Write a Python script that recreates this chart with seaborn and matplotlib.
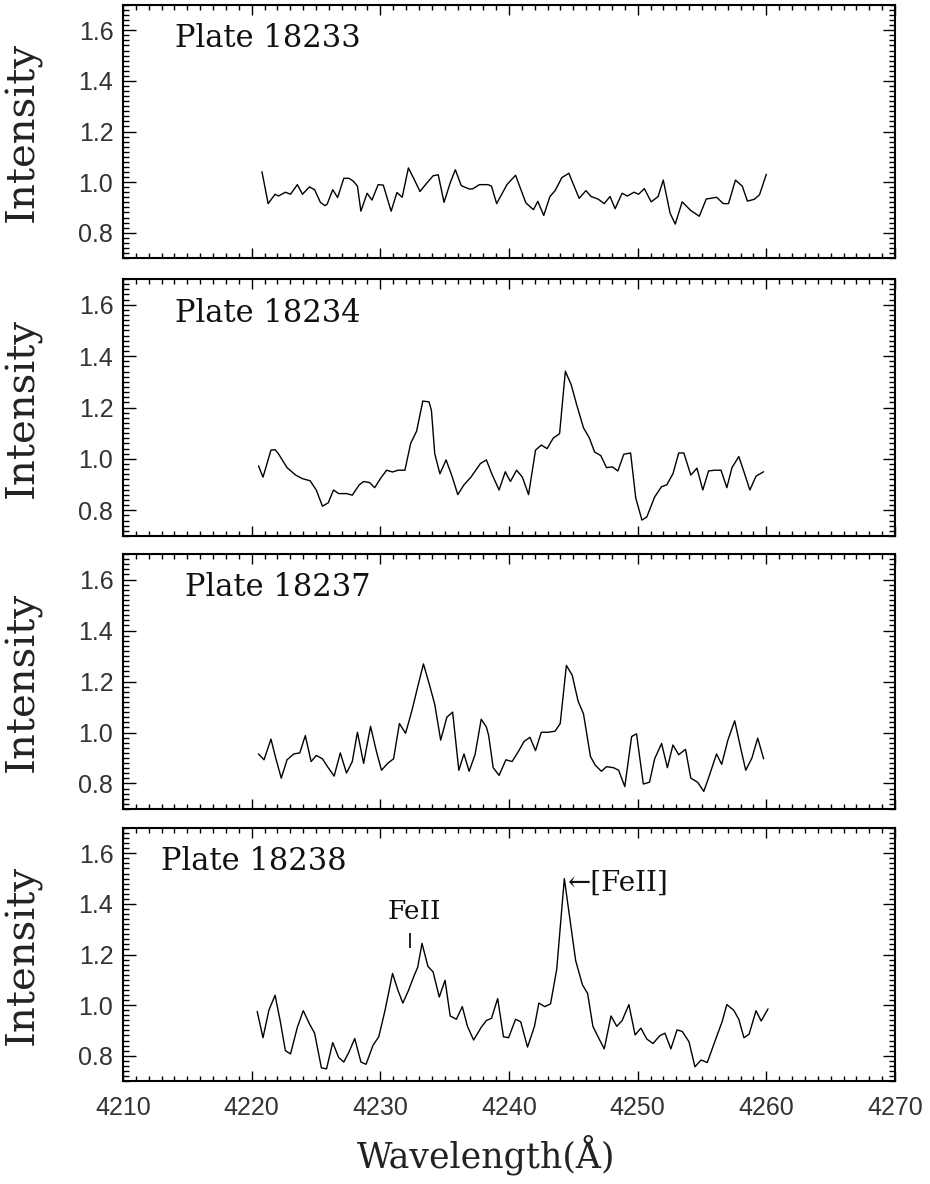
import matplotlib
matplotlib.use("Agg")
import matplotlib.pyplot as plt
import seaborn as sns
import pandas as pd
from matplotlib.ticker import MultipleLocator

plates = ["Plate 18233", "Plate 18234", "Plate 18237", "Plate 18238"]

wl_18233 = [4220.80, 4221.28, 4221.82, 4222.08, 4222.62, 4223.02, 4223.55, 4223.95, 4224.49, 4224.89,
            4225.34, 4225.69, 4225.87, 4226.30, 4226.68, 4227.16, 4227.56, 4227.90, 4228.22, 4228.49,
            4228.97, 4229.35, 4229.83, 4230.23, 4230.84, 4231.29, 4231.70, 4232.18, 4232.63, 4233.08,
            4233.56, 4234.10, 4234.50, 4234.95, 4235.43, 4235.83, 4236.29, 4236.90, 4237.17, 4237.70,
            4238.37, 4238.64, 4239.04, 4239.84, 4240.51, 4241.31, 4241.90, 4242.24, 4242.70, 4243.18,
            4243.58, 4244.11, 4244.65, 4245.45, 4245.98, 4246.38, 4246.92, 4247.40, 4247.85, 4248.25,
            4248.79, 4249.19, 4249.72, 4250.07, 4250.52, 4251.05, 4251.59, 4251.99, 4252.52, 4252.92,
            4253.46, 4254.12, 4254.79, 4255.33, 4256.13, 4256.66, 4257.06, 4257.60, 4258.13, 4258.53,
            4259.07, 4259.47, 4260.00]
int_18233 = [1.041, 0.915, 0.952, 0.945, 0.960, 0.952, 0.990, 0.952, 0.981, 0.970,
             0.920, 0.907, 0.913, 0.970, 0.939, 1.015, 1.015, 1.004, 0.984, 0.885,
             0.956, 0.929, 0.990, 0.988, 0.885, 0.959, 0.940, 1.056, 1.011, 0.963,
             0.993, 1.025, 1.029, 0.920, 0.997, 1.049, 0.986, 0.973, 0.973, 0.990,
             0.990, 0.984, 0.915, 0.990, 1.027, 0.918, 0.891, 0.924, 0.868, 0.943,
             0.966, 1.018, 1.035, 0.936, 0.966, 0.943, 0.933, 0.915, 0.943, 0.895,
             0.956, 0.945, 0.960, 0.952, 0.974, 0.922, 0.943, 1.008, 0.877, 0.834,
             0.922, 0.888, 0.865, 0.933, 0.940, 0.915, 0.915, 1.008, 0.984, 0.925,
             0.932, 0.950, 1.031]

wl_18234 = [4220.53, 4220.88, 4221.50, 4221.82, 4222.08, 4222.75, 4223.42, 4223.95, 4224.54, 4225.02,
            4225.50, 4225.95, 4226.36, 4226.76, 4227.37, 4227.82, 4228.36, 4228.70, 4229.16, 4229.56,
            4230.04, 4230.49, 4230.95, 4231.38, 4231.91, 4232.36, 4232.82, 4233.30, 4233.78, 4233.97,
            4234.23, 4234.63, 4235.11, 4235.57, 4236.02, 4236.50, 4237.04, 4237.78, 4238.24, 4238.69,
            4239.23, 4239.71, 4240.11, 4240.59, 4241.04, 4241.52, 4242.06, 4242.51, 4242.96, 4243.44,
            4243.93, 4244.38, 4244.83, 4245.31, 4245.79, 4246.25, 4246.65, 4247.13, 4247.58, 4248.04,
            4248.46, 4248.92, 4249.45, 4249.85, 4250.33, 4250.71, 4251.32, 4251.86, 4252.26, 4252.74,
            4253.19, 4253.59, 4254.13, 4254.61, 4255.06, 4255.51, 4255.99, 4256.48, 4256.93, 4257.33,
            4257.86, 4258.26, 4258.72, 4259.20, 4259.79]
int_18234 = [0.973, 0.929, 1.034, 1.036, 1.020, 0.966, 0.937, 0.923, 0.915, 0.879,
             0.816, 0.829, 0.879, 0.865, 0.865, 0.859, 0.899, 0.912, 0.908, 0.888,
             0.926, 0.956, 0.949, 0.956, 0.956, 1.061, 1.108, 1.225, 1.222, 1.189,
             1.020, 0.942, 0.996, 0.933, 0.861, 0.899, 0.929, 0.982, 0.996, 0.939,
             0.879, 0.950, 0.912, 0.956, 0.929, 0.861, 1.034, 1.054, 1.040, 1.081,
             1.098, 1.341, 1.289, 1.202, 1.121, 1.081, 1.027, 1.013, 0.966, 0.969,
             0.953, 1.018, 1.023, 0.848, 0.762, 0.774, 0.852, 0.892, 0.899, 0.942,
             1.023, 1.023, 0.937, 0.964, 0.879, 0.953, 0.956, 0.956, 0.888, 0.966,
             1.009, 0.950, 0.879, 0.933, 0.950]

wl_18237 = [4220.53, 4220.96, 4221.50, 4221.87, 4222.30, 4222.75, 4223.28, 4223.74, 4224.17, 4224.62,
            4225.02, 4225.50, 4225.95, 4226.41, 4226.89, 4227.37, 4227.82, 4228.22, 4228.70, 4229.24,
            4229.69, 4230.09, 4230.57, 4231.03, 4231.48, 4231.96, 4232.44, 4232.90, 4233.35, 4233.83,
            4234.23, 4234.69, 4235.17, 4235.62, 4236.10, 4236.50, 4236.90, 4237.36, 4237.84, 4238.24,
            4238.42, 4238.77, 4239.23, 4239.76, 4240.24, 4240.77, 4241.17, 4241.63, 4242.06, 4242.51,
            4243.04, 4243.58, 4243.98, 4244.46, 4244.91, 4245.37, 4245.79, 4246.33, 4246.70, 4247.18,
            4247.58, 4248.12, 4248.52, 4249.00, 4249.53, 4249.91, 4250.44, 4250.92, 4251.32, 4251.86,
            4252.31, 4252.74, 4253.19, 4253.72, 4254.13, 4254.66, 4255.14, 4255.59, 4256.13, 4256.53,
            4257.01, 4257.54, 4258.00, 4258.40, 4258.88, 4259.33, 4259.79]
int_18237 = [0.916, 0.893, 0.974, 0.900, 0.821, 0.893, 0.916, 0.920, 0.988, 0.886,
             0.910, 0.897, 0.862, 0.829, 0.920, 0.841, 0.886, 1.001, 0.879, 1.024,
             0.927, 0.852, 0.879, 0.897, 1.035, 0.997, 1.083, 1.178, 1.269, 1.185,
             1.110, 0.970, 1.060, 1.080, 0.852, 0.916, 0.848, 0.913, 1.052, 1.022,
             0.988, 0.862, 0.832, 0.893, 0.886, 0.929, 0.965, 0.981, 0.929, 1.001,
             1.001, 1.005, 1.035, 1.263, 1.225, 1.123, 1.073, 0.906, 0.872, 0.848,
             0.866, 0.862, 0.852, 0.788, 0.984, 0.995, 0.798, 0.805, 0.897, 0.957,
             0.862, 0.951, 0.913, 0.934, 0.821, 0.805, 0.769, 0.834, 0.916, 0.875,
             0.970, 1.046, 0.940, 0.852, 0.900, 0.978, 0.897]

wl_18238 = [4220.43, 4220.88, 4221.34, 4221.82, 4222.22, 4222.62, 4223.02, 4223.55, 4224.01, 4224.49,
            4224.89, 4225.42, 4225.82, 4226.30, 4226.76, 4227.16, 4227.56, 4228.01, 4228.49, 4228.89,
            4229.43, 4229.88, 4230.36, 4230.95, 4231.38, 4231.75, 4232.18, 4232.63, 4232.90, 4233.24,
            4233.70, 4234.10, 4234.58, 4235.03, 4235.43, 4235.91, 4236.37, 4236.77, 4237.25, 4237.84,
            4238.24, 4238.64, 4239.12, 4239.57, 4239.97, 4240.51, 4240.91, 4241.44, 4241.98, 4242.32,
            4242.78, 4243.23, 4243.71, 4244.30, 4245.18, 4245.71, 4246.11, 4246.52, 4246.92, 4247.40,
            4247.93, 4248.38, 4248.79, 4249.32, 4249.80, 4250.25, 4250.71, 4251.19, 4251.72, 4252.12,
            4252.58, 4253.06, 4253.46, 4253.99, 4254.45, 4254.93, 4255.41, 4255.99, 4256.58, 4256.93,
            4257.46, 4257.86, 4258.26, 4258.66, 4259.20, 4259.60, 4260.13]
int_18238 = [0.975, 0.871, 0.980, 1.039, 0.937, 0.820, 0.807, 0.912, 0.978, 0.926,
             0.889, 0.752, 0.748, 0.852, 0.793, 0.775, 0.814, 0.868, 0.775, 0.766,
             0.841, 0.875, 0.978, 1.125, 1.057, 1.008, 1.057, 1.117, 1.149, 1.244,
             1.153, 1.131, 1.032, 1.098, 0.957, 0.944, 0.994, 0.916, 0.862, 0.912,
             0.939, 0.948, 1.026, 0.875, 0.871, 0.944, 0.934, 0.834, 0.916, 1.008,
             0.994, 1.005, 1.142, 1.500, 1.176, 1.080, 1.046, 0.916, 0.875, 0.827,
             0.957, 0.916, 0.939, 1.002, 0.882, 0.909, 0.866, 0.848, 0.879, 0.889,
             0.827, 0.902, 0.896, 0.855, 0.756, 0.783, 0.773, 0.855, 0.937, 1.002,
             0.980, 0.944, 0.871, 0.885, 0.978, 0.937, 0.985]

x_ticks = [4210, 4220, 4230, 4240, 4250, 4260, 4270]
y_ticks = [0.8, 1.0, 1.2, 1.4, 1.6]

# annotations in panel 4
feii_label = "FeII"
feii_label_pos = (4232.6, 1.37)
feii_mark_x = 4232.3
feii_mark_y = (1.225, 1.285)
ofeii_label = "\u2190[FeII]"
ofeii_label_pos = (4244.6, 1.48)

series = [wl_18233, wl_18234, wl_18237, wl_18238]
values = [int_18233, int_18234, int_18237, int_18238]
frames = []
for name, w, v in zip(plates, series, values):
    frames.append(pd.DataFrame({"plate": name, "wavelength": w, "intensity": v}))
df = pd.concat(frames, ignore_index=True)

sns.set_style("ticks")
plt.rcParams["font.family"] = ["Liberation Sans", "DejaVu Sans"]
plt.rcParams["xtick.direction"] = "in"
plt.rcParams["ytick.direction"] = "in"

SERIF = ["DejaVu Serif"]
W, H = 930, 1184
fig = plt.figure(figsize=(W / 100, H / 100), dpi=100)

left_px, right_px = 123, 895
panel_px = [(5, 258), (279, 536), (554, 809), (828, 1081)]
label_x = [0.067, 0.067, 0.080, 0.049]

axes = []
for i, (top, bot) in enumerate(panel_px):
    ax = fig.add_axes([left_px / W, 1 - bot / H, (right_px - left_px) / W, (bot - top) / H])
    sub = df[df["plate"] == plates[i]]
    sns.lineplot(data=sub, x="wavelength", y="intensity", ax=ax, color="black",
                 linewidth=1.0, estimator=None, sort=False)
    ax.set_xlim(4210, 4270)
    ax.set_ylim(0.7, 1.7)
    ax.set_xticks(x_ticks)
    ax.set_yticks(y_ticks)
    ax.set_yticklabels([f"{t:.1f}" for t in y_ticks])
    ax.xaxis.set_minor_locator(MultipleLocator(1))
    ax.yaxis.set_minor_locator(MultipleLocator(0.02))
    ax.tick_params(which="both", top=True, right=True, direction="in", width=1.0, color="black")
    ax.tick_params(axis="x", which="major", length=7)
    ax.tick_params(axis="x", which="minor", length=3.5)
    ax.tick_params(axis="y", which="major", length=9)
    ax.tick_params(axis="y", which="minor", length=4)
    ax.tick_params(axis="y", which="major", labelsize=18, pad=7, labelcolor="#333333")
    ax.tick_params(axis="x", which="major", labelsize=18, pad=11, labelcolor="#333333")
    for s in ax.spines.values():
        s.set_linewidth(1.5)
        s.set_color("black")
    ax.set_ylabel("Intensity", family=SERIF, fontsize=29, color="#222222")
    ax.yaxis.label.set_va("center")
    ax.yaxis.set_label_coords(-0.13, 0.5)
    if i < 3:
        ax.set_xticklabels([])
        ax.set_xlabel("")
    else:
        ax.set_xticklabels([str(t) for t in x_ticks])
        ax.set_xlabel("Wavelength(\u00c5)", family=SERIF, fontsize=25, color="#222222")
        ax.xaxis.label.set_va("center")
        ax.xaxis.set_label_coords(0.47, -0.29)
    ax.text(label_x[i], 0.834, plates[i], transform=ax.transAxes, family=SERIF,
            fontsize=22, ha="left", va="baseline", color="#111111")
    axes.append(ax)

ax4 = axes[3]
ax4.text(feii_label_pos[0], feii_label_pos[1], feii_label, family=SERIF, fontsize=19,
         ha="center", va="center", color="#111111")
ax4.vlines(feii_mark_x, feii_mark_y[0], feii_mark_y[1], color="black", linewidth=1.2)
ax4.text(ofeii_label_pos[0], ofeii_label_pos[1], ofeii_label, family=SERIF, fontsize=20,
         ha="left", va="center", color="#111111")

fig.savefig("out.png", dpi=100)
